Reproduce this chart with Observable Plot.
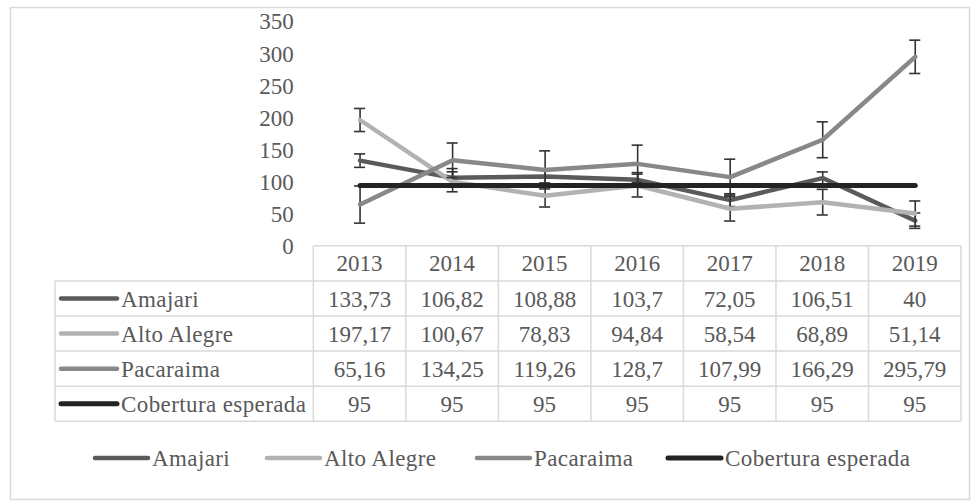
<!DOCTYPE html>
<html><head><meta charset="utf-8">
<script src="https://cdn.jsdelivr.net/npm/d3@7"></script>
<script src="https://cdn.jsdelivr.net/npm/@observablehq/plot@0.6"></script>
<style>html,body{margin:0;padding:0;background:#fff;overflow:hidden}</style>
</head><body><div id="chart"></div>
<script>
const years = [2013, 2014, 2015, 2016, 2017, 2018, 2019];
const seriesNames = ["Amajari", "Alto Alegre", "Pacaraima", "Cobertura esperada"];
const amajari = [133.73, 106.82, 108.88, 103.7, 72.05, 106.51, 40];
const altoAlegre = [197.17, 100.67, 78.83, 94.84, 58.54, 68.89, 51.14];
const pacaraima = [65.16, 134.25, 119.26, 128.7, 107.99, 166.29, 295.79];
const cobertura = [95, 95, 95, 95, 95, 95, 95];
const amajariErr = [10.5, 14.5, 10, 11.3, 10, 9.6, 12];
const altoAlegreErr = [18, 15.6, 17.5, 17.8, 19.1, 20, 19.6];
const pacaraimaErr = [29, 27, 29.7, 29.2, 28, 28, 26];
const yTicks = [0, 50, 100, 150, 200, 250, 300, 350];

const seriesValues = [amajari, altoAlegre, pacaraima, cobertura];
const seriesErrs = [amajariErr, altoAlegreErr, pacaraimaErr, null];
const colors = ["#5a5a5a", "#b2b2b2", "#888888", "#232323"];
const lineWidths = [4.5, 4.5, 4.5, 5];
const textColor = "#595959";
const gridColor = "#d9d9d9";
const fontFamily = "'Liberation Serif', 'Times New Roman', serif";
const fontSize = 23;
const capHalf = 0.06;

const series = seriesNames.map((name, i) => ({
  name, color: colors[i], width: lineWidths[i], hasErr: !!seriesErrs[i],
  rows: years.map((year, j) => ({year, value: seriesValues[i][j], err: seriesErrs[i] ? seriesErrs[i][j] : 0}))
}));

const marks = [
  Plot.axisY(yTicks, {tickSize: 0, tickPadding: 20, label: null, fill: textColor, fontSize})
];
for (const s of series) {
  if (s.hasErr) {
    const eb = {stroke: "#333333", strokeWidth: 1.6};
    marks.push(Plot.ruleX(s.rows, {x: "year", y1: d => d.value - d.err, y2: d => d.value + d.err, ...eb}));
    marks.push(Plot.ruleY(s.rows, {y: d => d.value - d.err, x1: d => d.year - capHalf, x2: d => d.year + capHalf, ...eb}));
    marks.push(Plot.ruleY(s.rows, {y: d => d.value + d.err, x1: d => d.year - capHalf, x2: d => d.year + capHalf, ...eb}));
  }
  marks.push(Plot.line(s.rows, {x: "year", y: "value", stroke: s.color, strokeWidth: s.width, strokeLinecap: "round", strokeLinejoin: "round"}));
}

const plot = Plot.plot({
  width: 976, height: 504,
  marginLeft: 313.3, marginRight: 15, marginTop: 21.6, marginBottom: 504 - 245.8,
  x: {type: "linear", domain: [years[0] - 0.5, years[years.length - 1] + 0.5], axis: null},
  y: {domain: [0, 350], axis: null},
  style: {fontFamily, fontSize: fontSize + "px", color: textColor, background: "#fff", overflow: "visible"},
  marks
});
document.getElementById("chart").appendChild(plot);

const svg = d3.select(plot);
const xs = plot.scale("x");
const ys = plot.scale("y");
const X = v => xs.apply(v);

// outer chart border
svg.insert("rect", ":first-child").attr("x", 10.5).attr("y", 7.5).attr("width", 959).attr("height", 492)
  .attr("fill", "#fff").attr("stroke", gridColor).attr("stroke-width", 1.5);

// data table
const g = svg.append("g").attr("font-family", fontFamily).attr("font-size", fontSize).attr("fill", textColor)
  .attr("text-anchor", "start");
const tableTop = ys.apply(0);
const rowH = 35.1;
const labelLeft = 55;
const colLeft = X(years[0] - 0.5);
const colRight = X(years[years.length - 1] + 0.5);
const line = (x1, y1, x2, y2) => g.append("line").attr("x1", x1).attr("y1", y1).attr("x2", x2).attr("y2", y2)
  .attr("stroke", gridColor).attr("stroke-width", 1.5);
line(colLeft, tableTop, colRight, tableTop);
for (let r = 1; r <= seriesNames.length + 1; r++) line(labelLeft, tableTop + r * rowH, colRight, tableTop + r * rowH);
line(labelLeft, tableTop + rowH, labelLeft, tableTop + (seriesNames.length + 1) * rowH);
for (let j = 0; j <= years.length; j++) {
  const xx = X(years[0] - 0.5 + j);
  line(xx, tableTop, xx, tableTop + (seriesNames.length + 1) * rowH);
}
const fmt = v => String(v).replace(".", ",");
years.forEach(y => {
  g.append("text").attr("x", X(y)).attr("y", tableTop + rowH / 2).attr("dy", "0.35em").attr("text-anchor", "middle").text(y);
});
series.forEach((s, i) => {
  const cy = tableTop + (i + 1.5) * rowH;
  g.append("line").attr("x1", 61).attr("x2", 117).attr("y1", cy).attr("y2", cy)
    .attr("stroke", s.color).attr("stroke-width", s.width).attr("stroke-linecap", "round");
  g.append("text").attr("x", 121).attr("y", cy).attr("dy", "0.35em").attr("text-anchor", "start")
    .attr("letter-spacing", 0.4).text(s.name);
  s.rows.forEach(d => {
    g.append("text").attr("x", X(d.year)).attr("y", cy).attr("dy", "0.35em").attr("text-anchor", "middle").text(fmt(d.value));
  });
});

// legend
const legendY = 458;
const legendX = [95, 267, 477, 668];
const keyLen = 53;
series.forEach((s, i) => {
  const x0 = legendX[i];
  g.append("line").attr("x1", x0).attr("x2", x0 + keyLen).attr("y1", legendY).attr("y2", legendY)
    .attr("stroke", s.color).attr("stroke-width", s.width).attr("stroke-linecap", "round");
  g.append("text").attr("x", x0 + keyLen + 4).attr("y", legendY).attr("dy", "0.35em").attr("text-anchor", "start")
    .attr("letter-spacing", 0.4).text(s.name);
});
</script>
</body></html>
